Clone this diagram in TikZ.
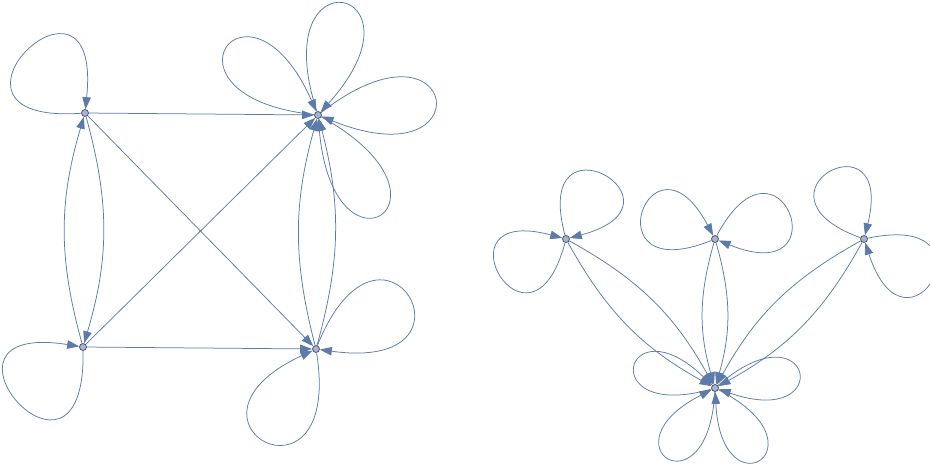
\documentclass[tikz,border=0pt]{standalone}
\usetikzlibrary{arrows.meta,backgrounds}
\definecolor{edgec}{RGB}{92,122,170}
\definecolor{vfill}{RGB}{165,182,210}
\definecolor{vdraw}{RGB}{85,88,98}
\tikzset{
  vtx/.style={circle, draw=vdraw, fill=vfill, line width=0.8pt, inner sep=0pt, minimum size=7pt},
  edge/.style={draw=edgec, line width=0.75pt, -{Triangle[length=12pt,width=8.5pt]}},
}
\newcommand\lp[4]{\draw[edge] (#1) .. controls +({#2-#4}:{#3/(0.75*cos(#4))}) and +({#2+#4}:{#3/(0.75*cos(#4))}) .. (#1);}
\begin{document}
\begin{tikzpicture}[x=1pt,y=-1pt]
\useasboundingbox (0,0) rectangle (930,467);
% vertices
\node[vtx] (A) at (85,113) {};
\node[vtx] (B) at (318,115) {};
\node[vtx] (C) at (83,347) {};
\node[vtx] (D) at (316,349) {};
\node[vtx] (P) at (566,239) {};
\node[vtx] (Q) at (715,239) {};
\node[vtx] (R) at (864,239) {};
\node[vtx] (S) at (715,388) {};
\begin{scope}[on background layer]
% left graph
\draw[edge] (A) -- (B);
\draw[edge] (A) -- (D);
\draw[edge] (C) -- (B);
\draw[edge] (C) -- (D);
\draw[edge] (A) to[bend left=16] (C);
\draw[edge] (C) to[bend left=16] (A);
\draw[edge] (D) to[bend left=15] (B);
\draw[edge] (D) to[bend right=15] (B);
\lp{A}{226}{84}{50}
\lp{C}{139}{84}{50}
\lp{B}{216}{112}{30}
\lp{B}{282}{113}{30}
\lp{B}{352}{117}{30}
\lp{B}{57}{116}{28}
\lp{D}{330}{105}{38}
\lp{D}{118}{104}{37}
% right graph
\draw[edge] (P) to[bend left=16] (S);
\draw[edge] (P) to[bend right=16] (S);
\draw[edge] (Q) to[bend left=16] (S);
\draw[edge] (Q) to[bend right=16] (S);
\draw[edge] (R) to[bend left=16] (S);
\draw[edge] (R) to[bend right=16] (S);
\lp{P}{300}{73}{45}
\lp{P}{150}{74}{45}
\lp{Q}{200}{76}{42}
\lp{Q}{340}{77}{42}
\lp{R}{242}{74}{42}
\lp{R}{30}{78}{42}
\lp{S}{194}{82}{30}
\lp{S}{349}{84}{30}
\lp{S}{123}{83}{30}
\lp{S}{57}{83}{30}
\end{scope}
\end{tikzpicture}
\end{document}
